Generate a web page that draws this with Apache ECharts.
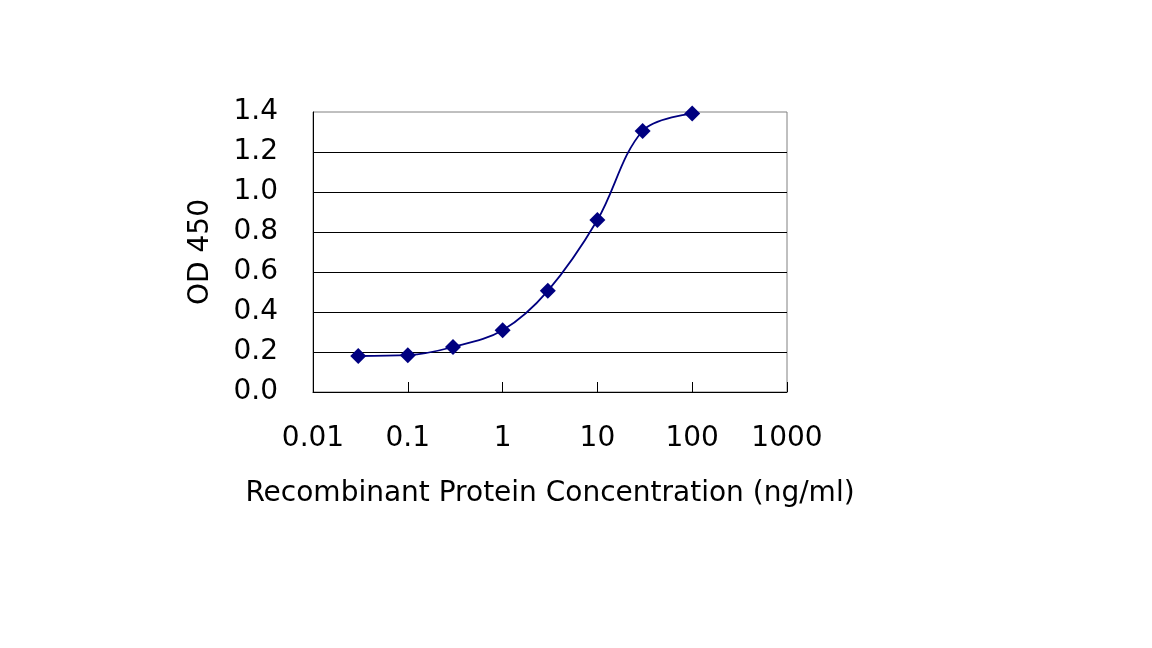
<!DOCTYPE html>
<html>
<head>
<meta charset="utf-8">
<script src="https://cdn.jsdelivr.net/npm/echarts@6/dist/echarts.min.js"></script>
<style>
    html, body { margin: 0; padding: 0; background: #fff; }
    #chart { width: 1152px; height: 648px; }
</style>
</head>
<body>
<div id="chart"></div>
<script>
// concentrations (ng/ml) and OD 450 readings
var concentration = [0.03, 0.1, 0.3, 1, 3, 10, 30, 100];
var od450 = [0.18, 0.184, 0.225, 0.309, 0.506, 0.86, 1.305, 1.392];

var xTicks = [0.01, 0.1, 1, 10, 100, 1000];

var chart = echarts.init(document.getElementById('chart'));

var points = concentration.map(function (c, i) {
    return [c, od450[i]];
});

var textFont = {
    fontFamily: 'DejaVu Sans',
    fontSize: 28,
    color: '#000'
};

var option = {
    animation: false,
    backgroundColor: '#fff',
    grid: {
        left: 313,
        top: 112,
        width: 474,
        height: 280,
        show: true,
        borderColor: '#808080',
        borderWidth: 1
    },
    xAxis: {
        type: 'log',
        logBase: 10,
        min: xTicks[0],
        max: xTicks[xTicks.length - 1],
        name: 'Recombinant Protein Concentration (ng/ml)',
        nameLocation: 'middle',
        nameGap: 88,
        nameTextStyle: textFont,
        axisLine: { show: true, lineStyle: { color: '#000', width: 1 } },
        axisTick: { show: true, inside: true, length: 10, lineStyle: { color: '#000' } },
        axisLabel: {
            margin: 33,
            fontFamily: 'DejaVu Sans',
            fontSize: 28,
            color: '#000',
            formatter: function (v) { return String(v); }
        },
        splitLine: { show: false }
    },
    yAxis: {
        type: 'value',
        min: 0,
        max: 1.4,
        interval: 0.2,
        name: 'OD 450',
        nameLocation: 'middle',
        nameGap: 98,
        nameTextStyle: textFont,
        axisLine: { show: true, lineStyle: { color: '#000', width: 1 } },
        axisTick: { show: false },
        axisLabel: {
            margin: 35,
            fontFamily: 'DejaVu Sans',
            fontSize: 28,
            color: '#000',
            formatter: function (v) { return v.toFixed(1); }
        },
        splitLine: {
            show: true,
            showMinLine: false,
            showMaxLine: false,
            lineStyle: { color: '#000', width: 1 }
        }
    },
    series: [{
        type: 'line',
        data: points,
        smooth: 0.35,
        symbol: 'diamond',
        symbolSize: 16,
        itemStyle: { color: '#000080' },
        lineStyle: { color: '#000080', width: 1.8 }
    }]
};

chart.setOption(option);
</script>
</body>
</html>
